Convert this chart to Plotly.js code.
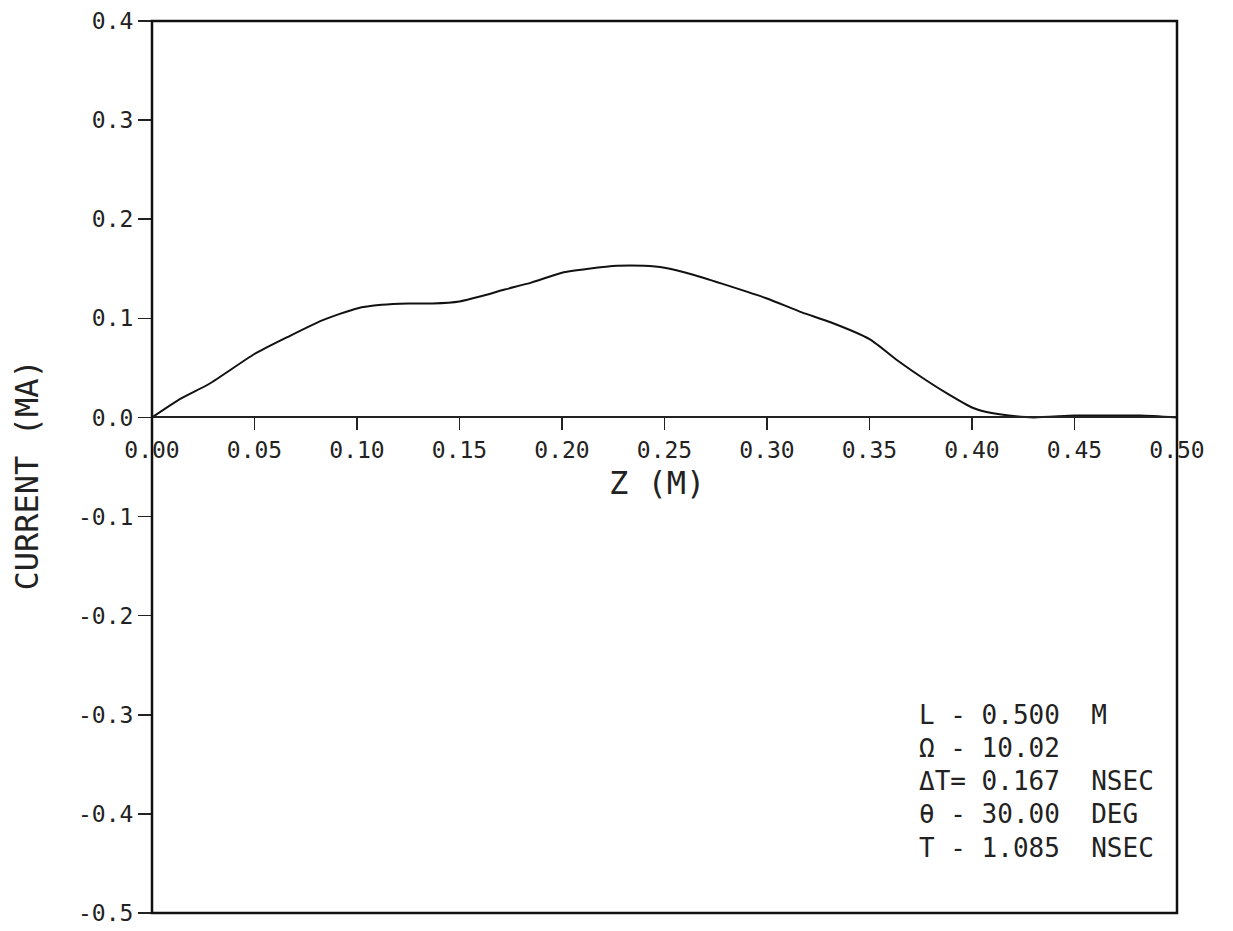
<!DOCTYPE html>
<html>
<head>
<meta charset="utf-8">
<script src="https://cdn.plot.ly/plotly-3.0.1.min.js"></script>
<style>html,body{margin:0;padding:0;background:#fff;}#chart{width:1233px;height:931px;}</style>
</head>
<body>
<div id="chart"></div>
<script>
const zPos = [0, 0.014, 0.028, 0.05, 0.066, 0.083, 0.10, 0.112, 0.125, 0.137, 0.15, 0.16, 0.172, 0.185, 0.20, 0.213, 0.227, 0.24, 0.25, 0.264, 0.278, 0.30, 0.317, 0.331, 0.35, 0.364, 0.378, 0.388, 0.40, 0.406, 0.418, 0.43, 0.45, 0.464, 0.482, 0.50];
const current = [0, 0.019, 0.034, 0.064, 0.081, 0.098, 0.110, 0.1136, 0.115, 0.115, 0.117, 0.122, 0.129, 0.136, 0.146, 0.150, 0.153, 0.153, 0.151, 0.144, 0.135, 0.120, 0.106, 0.096, 0.079, 0.057, 0.037, 0.024, 0.010, 0.006, 0.002, 0.0, 0.002, 0.002, 0.002, 0];

const xTickVals = [0, 0.05, 0.10, 0.15, 0.20, 0.25, 0.30, 0.35, 0.40, 0.45, 0.50];
const xTickText = ["0.00", "0.05", "0.10", "0.15", "0.20", "0.25", "0.30", "0.35", "0.40", "0.45", "0.50"];
const yTickVals = [0.4, 0.3, 0.2, 0.1, 0.0, -0.1, -0.2, -0.3, -0.4, -0.5];
const yTickText = ["0.4", "0.3", "0.2", "0.1", "0.0", "-0.1", "-0.2", "-0.3", "-0.4", "-0.5"];

const xTitle = "Z (M)";
const yTitle = "CURRENT (MA)";
const infoLines = ["L - 0.500  M", "Ω - 10.02", "ΔT= 0.167  NSEC", "θ - 30.00  DEG", "T - 1.085  NSEC"];

const FONT = "DejaVu Sans Mono, monospace";
const yMin = -0.5, yMax = 0.4;

const trace = {
  x: zPos, y: current, type: "scatter", mode: "lines", line: {color: "#111", width: 2, shape: "spline", smoothing: 0.6},
  hoverinfo: "skip", showlegend: false
};

const annotations = [
  {text: yTitle, xref: "paper", yref: "paper", x: -0.122, xanchor: "center", y: (0 - yMin) / (yMax - yMin) - 0.064,
   yanchor: "middle", textangle: -90, showarrow: false, font: {family: FONT, size: 32, color: "#222"}},
  {text: xTitle, xref: "paper", yref: "paper", x: 0.493, xanchor: "center", y: (0 - yMin) / (yMax - yMin) - 0.074,
   yanchor: "middle", showarrow: false, font: {family: FONT, size: 32, color: "#222"}}
];
infoLines.forEach((t, i) => {
  annotations.push({text: t, xref: "paper", yref: "paper", x: 0.746, xanchor: "left",
    y: (-0.3 - yMin) / (yMax - yMin) - i * 0.0372, yanchor: "middle", showarrow: false,
    font: {family: FONT, size: 26, color: "#222"}});
});

const layout = {
  width: 1233, height: 931,
  margin: {l: 152, r: 56, t: 21, b: 18},
  paper_bgcolor: "#fff", plot_bgcolor: "#fff",
  showlegend: false,
  xaxis: {
    range: [0, 0.5], anchor: "free", position: (0 - yMin) / (yMax - yMin),
    tickvals: xTickVals, ticktext: xTickText,
    ticks: "outside", ticklen: 12, tickwidth: 1.5, tickcolor: "#222",
    showline: true, linecolor: "#222", linewidth: 2,
    showgrid: false, zeroline: false,
    tickfont: {family: FONT, size: 23, color: "#222"}
  },
  yaxis: {
    range: [yMin, yMax], domain: [0, 1],
    tickvals: yTickVals, ticktext: yTickText,
    ticks: "outside", ticklen: 13, tickwidth: 1.5, tickcolor: "#222",
    showline: false, showgrid: false, zeroline: false,
    tickfont: {family: FONT, size: 23, color: "#222"}
  },
  shapes: [
    {type: "rect", xref: "paper", yref: "paper", x0: 0, x1: 1, y0: 0, y1: 1,
     line: {color: "#111", width: 2.5}, layer: "above"}
  ],
  annotations: annotations
};

Plotly.newPlot("chart", [trace], layout, {staticPlot: true, displayModeBar: false});
</script>
</body>
</html>
